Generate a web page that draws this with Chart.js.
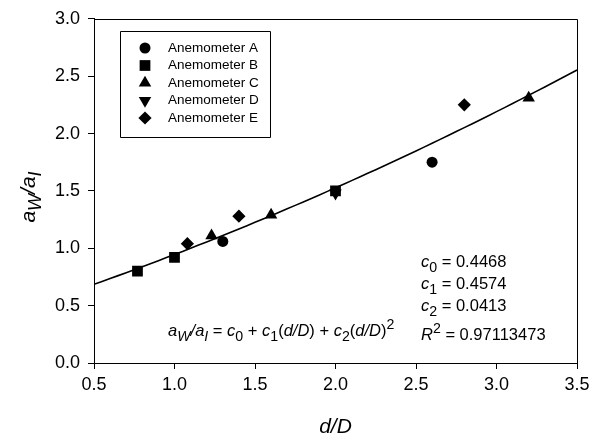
<!DOCTYPE html>
<html>
<head>
<meta charset="utf-8">
<script src="https://cdn.jsdelivr.net/npm/chart.js@4/dist/chart.umd.min.js"></script>
<style>
  html, body { margin: 0; padding: 0; background: #fff; }
  #wrap { width: 597px; height: 439px; position: relative; }
</style>
</head>
<body>
<div id="wrap"><canvas id="c" width="597" height="439"></canvas></div>
<script>
// Measured wind / reference acceleration ratio against spacing d/D
const xTicks = [0.5, 1.0, 1.5, 2.0, 2.5, 3.0, 3.5];
const yTicks = [0.0, 0.5, 1.0, 1.5, 2.0, 2.5, 3.0];

const seriesNames = ['Anemometer A', 'Anemometer B', 'Anemometer C', 'Anemometer D', 'Anemometer E'];

const anemometerA_x = [1.30, 2.60];
const anemometerA_y = [1.06, 1.75];
const anemometerB_x = [0.77, 1.00, 2.00];
const anemometerB_y = [0.80, 0.92, 1.50];
const anemometerC_x = [1.23, 1.60, 3.20];
const anemometerC_y = [1.11, 1.29, 2.31];
const anemometerD_x = [2.00];
const anemometerD_y = [1.48];
const anemometerE_x = [1.08, 1.40, 2.80];
const anemometerE_y = [1.04, 1.28, 2.25];

// Quadratic regression coefficients and fit quality
const coef = [0.4468, 0.4574, 0.0413];
const rSquared = '0.97113473';

const pts = (xs, ys) => xs.map((x, i) => ({ x: x, y: ys[i] }));

// Fitted curve sampled along the x range from the stated coefficients
const fitX = [];
for (let i = 0; i <= 60; i++) fitX.push(xTicks[0] + (xTicks[xTicks.length - 1] - xTicks[0]) * i / 60);
const fitCurve = fitX.map(x => ({ x: x, y: coef[0] + coef[1] * x + coef[2] * x * x }));

const FONT = '"Liberation Sans", Arial, sans-serif';

const markerStyles = [
  { pointStyle: 'circle',   radius: 5.5, rotation: 0 },
  { pointStyle: 'rect',     radius: 7.6, rotation: 0 },
  { pointStyle: 'triangle', radius: 7.2, rotation: 0 },
  { pointStyle: 'triangle', radius: 7.2, rotation: 180 },
  { pointStyle: 'rectRot',  radius: 6.6, rotation: 0 }
];

const seriesData = [
  pts(anemometerA_x, anemometerA_y),
  pts(anemometerB_x, anemometerB_y),
  pts(anemometerC_x, anemometerC_y),
  pts(anemometerD_x, anemometerD_y),
  pts(anemometerE_x, anemometerE_y)
];

const datasets = [{
  type: 'line',
  label: 'fit',
  data: fitCurve,
  borderColor: '#000',
  borderWidth: 1.6,
  pointRadius: 0,
  fill: false,
  tension: 0,
  order: 10
}];
seriesNames.forEach((name, i) => {
  datasets.push({
    label: name,
    data: seriesData[i],
    backgroundColor: '#000',
    borderColor: '#000',
    borderWidth: 0,
    pointStyle: markerStyles[i].pointStyle,
    pointRadius: markerStyles[i].radius,
    pointRotation: markerStyles[i].rotation,
    pointHoverRadius: markerStyles[i].radius,
    order: 1
  });
});

// Draw a run of styled text pieces left to right; returns end x
function drawRich(ctx, x, y, parts, size) {
  parts.forEach(p => {
    const s = p.sub || p.sup ? size * 0.86 : size;
    ctx.font = (p.it ? 'italic ' : '') + s + 'px ' + FONT;
    const dy = p.sub ? size * 0.28 : (p.sup ? -size * 0.42 : 0);
    ctx.fillText(p.t, x, y + dy);
    x += ctx.measureText(p.t).width;
  });
  return x;
}
function richWidth(ctx, parts, size) {
  let w = 0;
  parts.forEach(p => {
    const s = p.sub || p.sup ? size * 0.86 : size;
    ctx.font = (p.it ? 'italic ' : '') + s + 'px ' + FONT;
    w += ctx.measureText(p.t).width;
  });
  return w;
}

const ratioParts = [
  { t: 'a', it: true }, { t: 'W', it: true, sub: true },
  { t: '/', it: true },
  { t: 'a', it: true }, { t: 'I', it: true, sub: true }
];

const decorations = {
  id: 'decorations',
  afterDatasetsDraw(chart) {
    const ctx = chart.ctx;
    const a = chart.chartArea;
    ctx.save();
    ctx.fillStyle = '#000';
    ctx.strokeStyle = '#000';
    ctx.textBaseline = 'alphabetic';
    ctx.textAlign = 'left';

    // frame top and right
    ctx.lineWidth = 1;
    ctx.beginPath();
    ctx.moveTo(Math.round(a.left) + 0.5, Math.round(a.top) + 0.5);
    ctx.lineTo(Math.round(a.right) + 0.5, Math.round(a.top) + 0.5);
    ctx.lineTo(Math.round(a.right) + 0.5, Math.round(a.bottom) + 0.5);
    ctx.stroke();

    // legend box
    const lx = 120, ly = 31, lw = 150, lh = 106;
    ctx.beginPath();
    ctx.rect(lx + 0.5, ly + 0.5, lw, lh);
    ctx.stroke();
    seriesNames.forEach((name, i) => {
      const yy = 48 + i * 17.5;
      const m = markerStyles[i];
      Chart.helpers.drawPoint(ctx, {
        pointStyle: m.pointStyle,
        rotation: m.rotation,
        radius: m.radius,
        borderWidth: 0
      }, 145, yy);
      ctx.font = '13.5px ' + FONT;
      ctx.textBaseline = 'middle';
      ctx.fillText(name, 168, yy);
    });
    ctx.textBaseline = 'alphabetic';

    // regression equation
    const eq = [
      ...ratioParts,
      { t: ' = ' },
      { t: 'c', it: true }, { t: '0', sub: true },
      { t: ' + ' },
      { t: 'c', it: true }, { t: '1', sub: true },
      { t: '(' }, { t: 'd/D', it: true }, { t: ')' },
      { t: ' + ' },
      { t: 'c', it: true }, { t: '2', sub: true },
      { t: '(' }, { t: 'd/D', it: true }, { t: ')' },
      { t: '2', sup: true }
    ];
    drawRich(ctx, 168, 336, eq, 16.5);

    // coefficient block
    const rows = [
      [{ t: 'c', it: true }, { t: '0', sub: true }, { t: ' = ' + coef[0].toFixed(4) }],
      [{ t: 'c', it: true }, { t: '1', sub: true }, { t: ' = ' + coef[1].toFixed(4) }],
      [{ t: 'c', it: true }, { t: '2', sub: true }, { t: ' = ' + coef[2].toFixed(4) }],
      [{ t: 'R', it: true }, { t: '2', sup: true }, { t: ' = ' + rSquared }]
    ];
    const baselines = [267, 289, 311, 340];
    rows.forEach((r, i) => drawRich(ctx, 421, baselines[i], r, 16.5));

    // x axis title
    ctx.font = 'italic 21px ' + FONT;
    ctx.textAlign = 'center';
    ctx.fillText('d/D', (a.left + a.right) / 2, 433);

    // y axis title
    ctx.textAlign = 'left';
    const yw = richWidth(ctx, ratioParts, 21);
    ctx.translate(35, 197);
    ctx.rotate(-Math.PI / 2);
    drawRich(ctx, -yw / 2, 0, ratioParts, 21);
    ctx.restore();
  }
};

new Chart(document.getElementById('c'), {
  type: 'scatter',
  data: { datasets: datasets },
  options: {
    responsive: false,
    animation: false,
    devicePixelRatio: 1,
    layout: { padding: { left: 0, top: 14, right: 20, bottom: 0 } },
    plugins: {
      legend: { display: false },
      tooltip: { enabled: false },
      title: { display: false }
    },
    scales: {
      x: {
        type: 'linear',
        min: xTicks[0],
        max: xTicks[xTicks.length - 1],
        afterBuildTicks: s => { s.ticks = xTicks.map(v => ({ value: v })); },
        ticks: {
          color: '#000',
          font: { family: FONT, size: 18 },
          padding: 5,
          maxRotation: 0,
          callback: v => Number(v).toFixed(1)
        },
        grid: { drawOnChartArea: false, color: '#000', tickLength: 6, lineWidth: 1 },
        border: { display: true, color: '#000', width: 1 },
        afterFit: s => { s.height = 76; }
      },
      y: {
        type: 'linear',
        min: yTicks[0],
        max: yTicks[yTicks.length - 1],
        afterBuildTicks: s => { s.ticks = yTicks.map(v => ({ value: v })); },
        ticks: {
          color: '#000',
          font: { family: FONT, size: 18 },
          padding: 8,
          callback: v => Number(v).toFixed(1)
        },
        grid: { drawOnChartArea: false, color: '#000', tickLength: 6, lineWidth: 1 },
        border: { display: true, color: '#000', width: 1 },
        afterFit: s => { s.width = 94; }
      }
    }
  },
  plugins: [decorations]
});
</script>
</body>
</html>
